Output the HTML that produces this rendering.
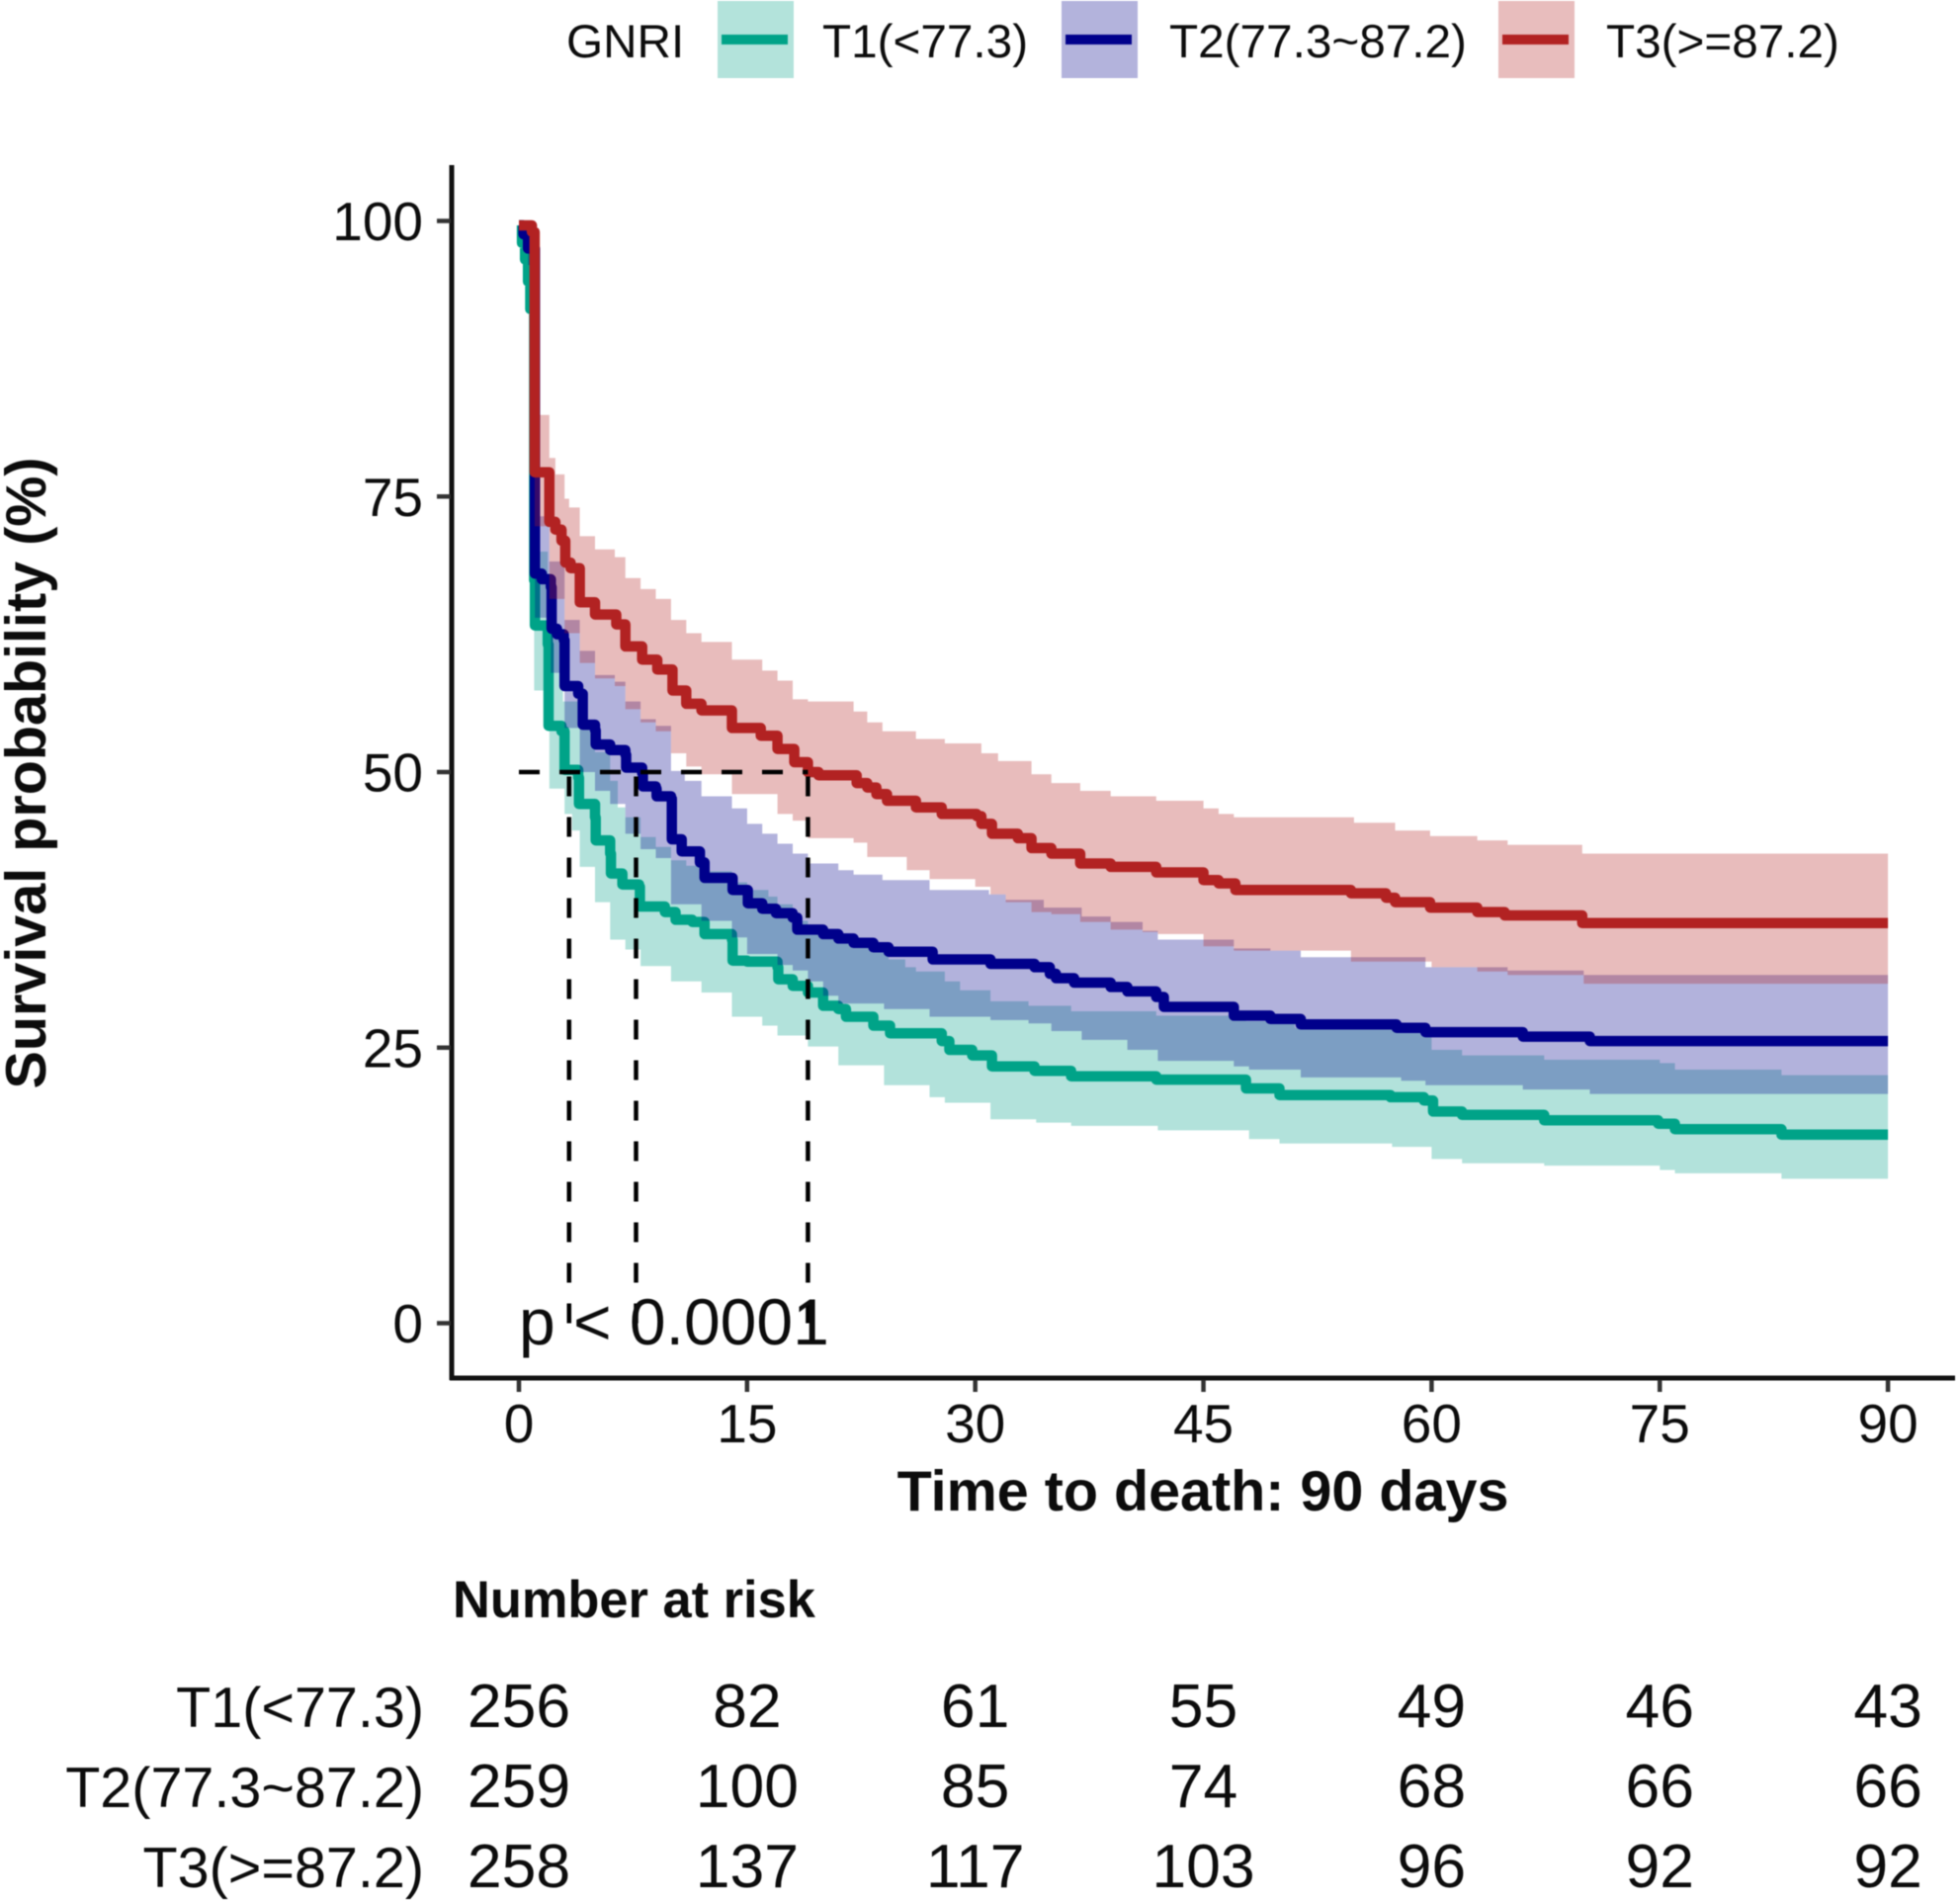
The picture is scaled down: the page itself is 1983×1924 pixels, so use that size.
<!DOCTYPE html>
<html lang="en">
<head>
<meta charset="utf-8">
<title>Kaplan-Meier survival curves by GNRI</title>
<style>
html,body{margin:0;padding:0;background:#fff;overflow:hidden;}
svg{display:block;filter:blur(0.6px);}
text{font-family:"Liberation Sans",Arial,sans-serif;fill:#0c0c0c;}
</style>
</head>
<body>
<svg id="chart" xmlns="http://www.w3.org/2000/svg" width="1983" height="1924" viewBox="0 0 1983 1924">
  <rect x="0" y="0" width="1983" height="1924" fill="#ffffff"/>

  <g>
    <text x="573" y="58" font-size="47.7">GNRI</text>
    <g>
      <rect x="726" y="1" width="77" height="78" fill="#b3e3db"/>
      <rect x="730" y="35" width="67" height="10" fill="#00a388"/>
      <text x="832" y="58" font-size="47.7">T1(&lt;77.3)</text>
    </g>
    <g>
      <rect x="1074" y="1" width="77" height="78" fill="#b3b3dc"/>
      <rect x="1078" y="35" width="67" height="10" fill="#00008b"/>
      <text x="1183" y="58" font-size="47.7">T2(77.3~87.2)</text>
    </g>
    <g>
      <rect x="1516" y="1" width="77" height="78" fill="#e8bdbd"/>
      <rect x="1520" y="35" width="67" height="10" fill="#b22222"/>
      <text x="1625" y="58" font-size="47.7">T3(&gt;=87.2)</text>
    </g>
  </g>

  <g id="plot-marks"></g>
  <g id="median-lines"></g>
  <g id="axes"></g>

  <text x="525" y="1360" font-size="66">p &lt; 0.0001</text>
  <text x="1217" y="1528" font-size="57.5" font-weight="bold" text-anchor="middle">Time to death: 90 days</text>
  <text transform="translate(46,782) rotate(-90)" font-size="57.5" font-weight="bold" text-anchor="middle">Survival probability (%)</text>
  <text x="458" y="1636" font-size="52.4" font-weight="bold">Number at risk</text>
  <g id="risk-table"></g>
</svg>

<script>
const xTicks = [0, 15, 30, 45, 60, 75, 90];
const yTicks = [0, 25, 50, 75, 100];
const medianTimes = [3.3, 7.7, 19.0];
const medianLevel = 50;

const riskLabels = ['T1(<77.3)', 'T2(77.3~87.2)', 'T3(>=87.2)'];
const riskT1 = [256, 82, 61, 55, 49, 46, 43];
const riskT2 = [259, 100, 85, 74, 68, 66, 66];
const riskT3 = [258, 137, 117, 103, 96, 92, 92];

/* each pair: [day of the step, survival % from that day on] */
const t1Line = [[0,99.6],[0.2,98],[0.4,96.5],[0.6,94.5],[0.75,92],[1,67.4],[1.05,63.3],[1.9,61.6],[1.95,54.2],[2.8,53.7],[3,50.2],[3.9,49.5],[3.95,47.1],[5,45.9],[5.05,43.8],[6,42.6],[6.05,40.8],[6.8,39.8],[7.9,39.6],[7.95,37.8],[9.6,37.3],[10.3,36.6],[11.4,36.4],[12.2,35.3],[14,34.8],[14.05,32.9],[15,32.8],[17,32.3],[17.05,31.2],[18,30.6],[19,30],[20,28.8],[21,28.5],[21.5,27.8],[23.3,27],[24.4,26.3],[27.8,25.6],[28.3,24.8],[29.8,24.3],[31.1,23.3],[33.9,22.9],[36.3,22.4],[41.9,22.1],[47.8,21.3],[50,20.7],[57.3,20.5],[59.5,20.2],[60.1,19.2],[62,18.9],[67.4,18.4],[74.9,18.1],[76,17.6],[83,17.1]];
const t1Upper = [[0,100],[1,70],[1.9,63],[2.9,56.4],[4,54.3],[5,51.8],[6,49.2],[6.5,46.8],[7,45.9],[8,44.1],[9,43.2],[10,42],[11,41.5],[12,41],[14,40],[15,39.3],[16.4,38.7],[17,38],[18,36.5],[19,35.5],[21,34.5],[24.3,33],[25.4,32.3],[26.1,31.9],[28,31],[29,30.2],[31,29.2],[33.5,28.8],[36.3,28.3],[41.9,27.9],[47.8,27.4],[51,26.8],[57.7,26.5],[60,24.8],[62,24.3],[67.4,23.9],[75,23.6],[76,23],[83,22.5]];
const t1Lower = [[0,99.4],[0.2,97],[0.4,95],[0.6,92.5],[0.75,89],[1,57.4],[2,48.5],[3,46.2],[3.5,44.7],[4,41.4],[5,38.2],[6,34.8],[7,33.9],[8,32.4],[10,31],[12,30],[14,27.8],[16,27],[17,26.1],[19,25.1],[21,23.4],[24,21.6],[27,20.5],[28,20],[31,18.5],[34,18.2],[36.3,17.9],[42,17.5],[48,16.7],[50,16.3],[57.4,16],[60,14.9],[62,14.5],[67.4,14.3],[75,13.9],[76,13.6],[83,13.1]];

const t2Line = [[0,99.6],[0.3,98.8],[0.6,97.5],[1.05,68],[1.5,67.5],[2.1,66.8],[2.15,63],[2.5,62.5],[2.95,62],[3,57.8],[3.9,57.1],[4.2,54.3],[5,53.8],[5.05,52.5],[6,52],[7,51.6],[7.05,50.4],[8.1,49.9],[8.15,48.7],[9,48.5],[9.05,47.8],[10,47.6],[10.05,43.9],[10.7,42.8],[11.9,41.8],[12.2,40.4],[14.05,39.3],[15.05,38.1],[16,37.6],[16.9,37.2],[18,36.8],[18.3,35.7],[20,35.3],[21,34.9],[22,34.5],[23.3,34.1],[24.3,33.7],[27.2,33],[31,32.6],[33.9,32.3],[34.9,31.7],[35.3,31.3],[36.5,30.9],[38.9,30.5],[40,30.1],[41.9,29.6],[42.4,28.7],[47,27.9],[49.4,27.6],[51.4,27.1],[57.7,26.8],[59.6,26.4],[66,26],[70.4,25.6]];
const t2Upper = [[0,100],[1.05,73.2],[2,69.1],[3,63.8],[4,61],[5,58.8],[6.3,58.2],[7,56.4],[8,54.8],[9,54.2],[10,50.1],[10.9,49.2],[12,47.8],[14,46.7],[15,45.3],[16,44.4],[17,43.5],[18,42.6],[19,41.7],[21,41.1],[22,40.7],[23.9,40.2],[27,39.3],[30.9,38.9],[32,38.4],[34.5,37.7],[37,36.9],[38.9,36.4],[41,35.6],[42,34.8],[47,34],[49.4,33.8],[51.4,33.2],[59.6,32.3],[65,32],[70,31.6]];
const t2Lower = [[0,99.4],[0.3,98],[0.6,96],[1.05,64],[2.1,59],[3,54],[4,50],[5,48.3],[6,47.1],[7,44.4],[8,43],[9,42.2],[10,38],[12,36.5],[14,35],[15,33.5],[17,32.5],[18,32],[19,31],[20,29.7],[21,29],[24,28.5],[27,27.8],[31,27.5],[33.5,27.2],[35,26.5],[37,25.7],[40,24.8],[42,23.8],[47,23.3],[48,23],[51.4,22.3],[58,22],[59.6,21.6],[66,21.2],[70.4,20.8]];

const t3Line = [[0,99.6],[0.85,99],[1.03,77.2],[2,72.7],[2.4,72],[2.8,71],[3.05,69],[3.4,68.5],[4,65.4],[5,64.3],[6.4,63.4],[7,61.4],[8.1,60.2],[9.1,59.3],[10.1,57.4],[11,56.2],[12,55.6],[14,54],[15.9,53.3],[17,52.1],[18.1,50.9],[19,50],[19.7,49.7],[22.2,49],[22.9,48.6],[23.5,48],[24.2,47.4],[26.1,46.8],[27.8,46.2],[30.1,46],[30.4,45.3],[31.1,44.4],[32.8,44],[33.7,43.1],[35,42.6],[36.9,41.7],[38.9,41.4],[41.9,40.9],[45,40.2],[46,39.9],[47.1,39.3],[54.7,39],[57,38.6],[57.6,38.2],[59.9,37.7],[63,37.3],[64.8,37],[69.9,36.3]];
const t3Upper = [[0,100],[1.03,82.4],[2,78.5],[2.4,77],[3,74.8],[3.3,74],[4,71.4],[5,70.2],[6.3,69.5],[7,67.6],[8,66.6],[9,65.7],[10,63.8],[11,62.6],[12,61.8],[14,60.2],[16,59.2],[17,58.3],[18,56.6],[19,56.4],[22,55.5],[22.9,54.5],[23.9,53.7],[26.1,53],[28,52.6],[30.4,51.7],[31.5,51],[33.7,49.8],[35,49],[36.9,48.3],[38.9,47.8],[41.9,47.4],[45,46.7],[46,46.2],[47,45.9],[54.9,45.4],[57.6,44.7],[59.9,44.2],[63,43.8],[65,43.4],[69.9,42.6]];
const t3Lower = [[0,99.4],[0.85,98],[1.03,72.3],[2,65.7],[3,62.6],[4,59.9],[5,58.5],[6.3,57.8],[7,55.7],[8,54.5],[9,53.7],[10,51.7],[11,50.5],[12,49.8],[14,48],[17,46.2],[18,45.6],[19,44],[22,43.6],[22.9,42.3],[25.5,41.1],[27,40.3],[30,39.6],[31,38.9],[32,38.2],[33.7,37.3],[35,37.1],[36.9,36.4],[38.9,35.7],[41,35.5],[42,35.3],[45,34.2],[47,33.8],[54.7,32.8],[60,32.3],[63,31.9],[65,31.6],[70,30.8]];

const NS = 'http://www.w3.org/2000/svg';
const xScale = function (day) { return 525 + day * 15.39; };
const yScale = function (pct) { return 1338.5 - pct * 11.15; };
const END_DAY = 90;

function make(tag, parent) {
  const el = document.createElementNS(NS, tag);
  parent.appendChild(el);
  return el;
}

function stepForward(points) {
  let d = '';
  points.forEach(function (p, i) {
    const px = xScale(p[0]).toFixed(1);
    const py = yScale(p[1]).toFixed(1);
    d += i === 0 ? 'M' + px + ' ' + py : 'H' + px + 'V' + py;
  });
  d += 'H' + xScale(END_DAY).toFixed(1);
  return d;
}

function stepBackward(points) {
  let d = '';
  const last = points[points.length - 1];
  d += 'L' + xScale(END_DAY).toFixed(1) + ' ' + yScale(last[1]).toFixed(1);
  for (let i = points.length - 1; i > 0; i--) {
    d += 'H' + xScale(points[i][0]).toFixed(1) + 'V' + yScale(points[i - 1][1]).toFixed(1);
  }
  d += 'H' + xScale(points[0][0]).toFixed(1);
  return d + 'Z';
}

const marks = document.getElementById('plot-marks');
const groups = [
  { key: 't1', line: t1Line, upper: t1Upper, lower: t1Lower, color: '#00a388', fill: '#00a087' },
  { key: 't2', line: t2Line, upper: t2Upper, lower: t2Lower, color: '#00008b', fill: '#00008b' },
  { key: 't3', line: t3Line, upper: t3Upper, lower: t3Lower, color: '#b22222', fill: '#b22222' }
];
groups.forEach(function (s) {
  const band = make('path', marks);
  
  
  band.setAttribute('d', stepForward(s.upper) + stepBackward(s.lower));
  band.setAttribute('fill', s.fill);
  band.setAttribute('fill-opacity', '0.3');

  const curve = make('path', marks);
  
  
  curve.setAttribute('d', stepForward(s.line));
  curve.setAttribute('fill', 'none');
  curve.setAttribute('stroke', s.color);
  curve.setAttribute('stroke-width', '10.5');
  curve.setAttribute('stroke-linejoin', 'round');
});

const medians = document.getElementById('median-lines');
const hLine = make('line', medians);


hLine.setAttribute('x1', xScale(0));
hLine.setAttribute('x2', xScale(Math.max.apply(null, medianTimes)));
hLine.setAttribute('y1', yScale(medianLevel));
hLine.setAttribute('y2', yScale(medianLevel));
hLine.setAttribute('stroke', '#000');
hLine.setAttribute('stroke-width', '4.5');
hLine.setAttribute('stroke-dasharray', '21 20');
medianTimes.forEach(function (t) {
  const v = make('line', medians);
  
  
  v.setAttribute('x1', xScale(t));
  v.setAttribute('x2', xScale(t));
  v.setAttribute('y1', yScale(0));
  v.setAttribute('y2', yScale(medianLevel));
  v.setAttribute('stroke', '#000');
  v.setAttribute('stroke-width', '4.5');
  v.setAttribute('stroke-dasharray', '20 21');
});

const axes = document.getElementById('axes');
const yAxis = make('line', axes);


yAxis.setAttribute('x1', 457);
yAxis.setAttribute('x2', 457);
yAxis.setAttribute('y1', 167);
yAxis.setAttribute('y2', 1396);
yAxis.setAttribute('stroke', '#111');
yAxis.setAttribute('stroke-width', '5');
const xAxis = make('line', axes);


xAxis.setAttribute('x1', 455);
xAxis.setAttribute('x2', 1978);
xAxis.setAttribute('y1', 1394);
xAxis.setAttribute('y2', 1394);
xAxis.setAttribute('stroke', '#111');
xAxis.setAttribute('stroke-width', '5');

yTicks.forEach(function (v) {
  const tick = make('line', axes);
  
  
  tick.setAttribute('x1', 442);
  tick.setAttribute('x2', 456);
  tick.setAttribute('y1', yScale(v));
  tick.setAttribute('y2', yScale(v));
  tick.setAttribute('stroke', '#333');
  tick.setAttribute('stroke-width', '4.5');
  const label = make('text', axes);
  
  
  label.setAttribute('x', 428);
  label.setAttribute('y', yScale(v) + 19.5);
  label.setAttribute('font-size', '55');
  label.setAttribute('text-anchor', 'end');
  label.textContent = String(v);
});

xTicks.forEach(function (v) {
  const tick = make('line', axes);
  
  
  tick.setAttribute('x1', xScale(v));
  tick.setAttribute('x2', xScale(v));
  tick.setAttribute('y1', 1396);
  tick.setAttribute('y2', 1408);
  tick.setAttribute('stroke', '#333');
  tick.setAttribute('stroke-width', '4.5');
  const label = make('text', axes);
  
  
  label.setAttribute('x', xScale(v));
  label.setAttribute('y', 1459);
  label.setAttribute('font-size', '55');
  label.setAttribute('text-anchor', 'middle');
  label.textContent = String(v);
});

const riskTable = document.getElementById('risk-table');
const riskRows = [riskT1, riskT2, riskT3];
const riskBaselines = [1747, 1828, 1909];
riskRows.forEach(function (row, r) {
  const name = make('text', riskTable);
  
  
  name.setAttribute('x', 429);
  name.setAttribute('y', riskBaselines[r]);
  name.setAttribute('font-size', '57.5');
  name.setAttribute('text-anchor', 'end');
  name.textContent = riskLabels[r];
  row.forEach(function (n, c) {
    const cell = make('text', riskTable);
    
    
    cell.setAttribute('x', xScale(xTicks[c]));
    cell.setAttribute('y', riskBaselines[r]);
    cell.setAttribute('font-size', '62.5');
    cell.setAttribute('text-anchor', 'middle');
    cell.textContent = String(n);
  });
});
</script>
</body>
</html>
